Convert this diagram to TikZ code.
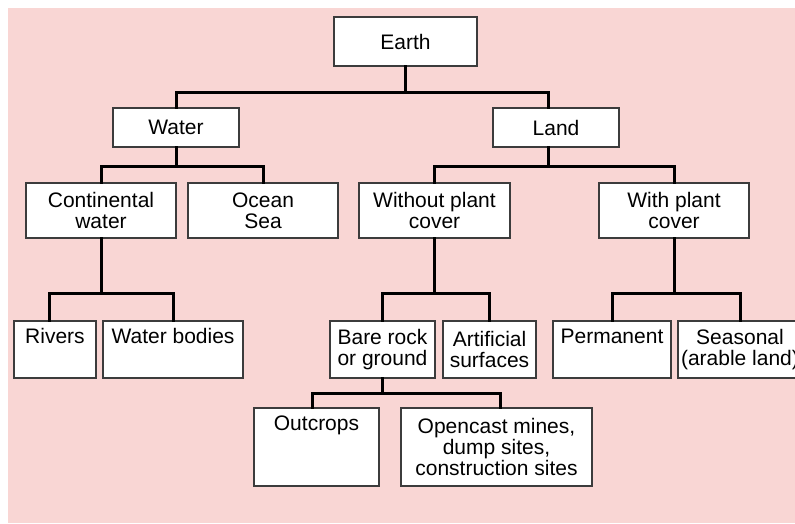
\documentclass[tikz,border=0pt]{standalone}
\usepackage{fontspec}
\setmainfont{Liberation Sans}
\usepackage{xcolor}
\definecolor{pinkbg}{RGB}{249,214,212}
\definecolor{boxline}{RGB}{60,60,60}

\begin{document}
\begin{tikzpicture}[x=1pt, y=-1pt,
		b/.style = {rectangle, draw=boxline, fill=white, line width=1.3pt, align=center,
			inner xsep=2pt, inner ysep=2pt, font=\fontsize{21}{21}\selectfont},
		toptext/.style = {text height=20pt, text depth=#1},
		l/.style = {line width=3pt, line cap=rect}
		]
		
		%Background
		\useasboundingbox (0, 0) rectangle (795, 523);
		\fill[pinkbg] (8, 8) rectangle (795, 523);
		
		%Nodes
		\node[b, minimum width=143, minimum height=49]	(earth)		at	(405.5, 41.5)	{Earth};
		\node[b, minimum width=126, minimum height=39]	(water)		at	(176, 127.5)	{Water};
		\node[b, minimum width=126, minimum height=39]	(land)		at	(556, 127.5)	{Land};
		\node[b, minimum width=150, minimum height=55]	(cont)		at	(101, 210.5)	{Continental\\water};
		\node[b, minimum width=150, minimum height=55]	(ocean)		at	(263, 210.5)	{Ocean\\Sea};
		\node[b, minimum width=151, minimum height=55]	(without)	at	(434.5, 210.5)	{Without plant\\cover};
		\node[b, minimum width=150, minimum height=55]	(with)		at	(674, 210.5)	{With plant\\cover};
		\node[b, toptext=33pt, minimum width=82, minimum height=57]		(rivers)	at	(55, 349.5)		{Rivers};
		\node[b, toptext=33pt, minimum width=140, minimum height=57]	(bodies)	at	(173, 349.5)	{Water bodies};
		\node[b, minimum width=105, minimum height=57]	(bare)		at	(382.5, 349.5)	{Bare rock\\or ground};
		\node[b, minimum width=93, minimum height=57]	(artif)		at	(489.5, 349.5)	{Artificial\\surfaces};
		\node[b, toptext=33pt, minimum width=118, minimum height=57]	(perm)		at	(612, 349.5)	{Permanent};
		\node[b, minimum width=124, minimum height=57]	(season)	at	(740, 349.5)	{Seasonal\\(arable land)};
		\node[b, toptext=54pt, minimum width=125, minimum height=78]	(outcrops)	at	(316.5, 447)	{Outcrops};
		\node[b, minimum width=191, minimum height=78]	(opencast)	at	(496.5, 447)	{Opencast mines,\\dump sites,\\construction sites};
		
		%Lines
		\draw[l]	(earth.south)	--	++(0, 26)	-|	(water.north);
		\draw[l]	(earth.south)	--	++(0, 26)	-|	([xshift=-8]land.north);
		\draw[l]	(water.south)	--	++(0, 19)	-|	(cont.north);
		\draw[l]	(water.south)	--	++(0, 19)	-|	(ocean.north);
		\draw[l]	([xshift=-8]land.south)	--	++(0, 19)	-|	(without.north);
		\draw[l]	([xshift=-8]land.south)	--	++(0, 19)	-|	(with.north);
		\draw[l]	(cont.south)	--	++(0, 55)	-|	([xshift=-6]rivers.north);
		\draw[l]	(cont.south)	--	++(0, 55)	-|	(bodies.north);
		\draw[l]	(without.south)	--	++(0, 55)	-|	(bare.north);
		\draw[l]	(without.south)	--	++(0, 55)	-|	(artif.north);
		\draw[l]	(with.south)	--	++(0, 55)	-|	(perm.north);
		\draw[l]	(with.south)	--	++(0, 55)	-|	(season.north);
		\draw[l]	(bare.south)	--	++(0, 15)	-|	([xshift=-4]outcrops.north);
		\draw[l]	(bare.south)	--	++(0, 15)	-|	([xshift=4]opencast.north);
	\end{tikzpicture}
\end{document}
